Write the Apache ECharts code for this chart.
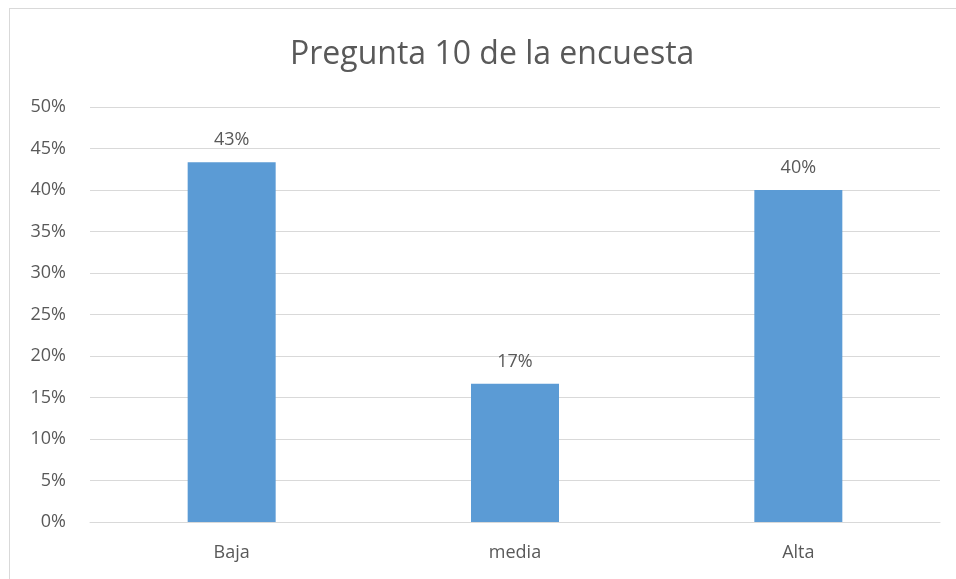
<!DOCTYPE html>
<html>
<head>
<meta charset="utf-8">
<script src="https://cdn.jsdelivr.net/npm/echarts@6/dist/echarts.min.js"></script>
<style>
  html, body { margin: 0; padding: 0; background: #fff; }
  #frame {
    position: absolute; left: 9px; top: 8px; width: 960px; height: 590px;
    border: 1px solid #d9d9d9; box-sizing: border-box;
  }
  #chart { position: absolute; left: 0; top: 0; width: 956px; height: 579px; }
</style>
</head>
<body>
<div id="frame"></div>
<div id="chart"></div>
<script>
// Pregunta 10 de la encuesta
const titleText = 'Pregunta 10 de la encuesta'
const categories = ['Baja', 'media', 'Alta']
const values = [43.33, 16.67, 40.0]
const yTicks = { min: 0, max: 50, step: 5 }

const textColor = '#595959'
const font = 'Open Sans'

const chart = echarts.init(document.getElementById('chart'))
const option = {
  animation: false,
  title: {
    text: titleText,
    left: 285,
    top: 34,
    textStyle: { color: textColor, fontFamily: font, fontSize: 32, fontWeight: 'normal' }
  },
  grid: { left: 90, right: 16, top: 107, bottom: 57, containLabel: false },
  xAxis: {
    type: 'category',
    data: categories,
    axisLine: { lineStyle: { color: '#d9d9d9' } },
    axisTick: { show: false },
    axisLabel: { color: textColor, fontFamily: font, fontSize: 18, margin: 22 }
  },
  yAxis: {
    type: 'value',
    min: yTicks.min,
    max: yTicks.max,
    interval: yTicks.step,
    axisLine: { show: false },
    axisTick: { show: false },
    splitLine: { lineStyle: { color: '#d9d9d9', width: 1 } },
    axisLabel: {
      color: textColor, fontFamily: font, fontSize: 18, margin: 24,
      formatter: v => v + '%'
    }
  },
  series: [{
    type: 'bar',
    data: values,
    barWidth: 88,
    itemStyle: { color: '#5b9bd5' },
    label: {
      show: true,
      position: 'top',
      distance: 13,
      color: textColor,
      fontFamily: font,
      fontSize: 18,
      formatter: p => Math.round(p.value) + '%'
    }
  }]
}
chart.setOption(option)
</script>
</body>
</html>
